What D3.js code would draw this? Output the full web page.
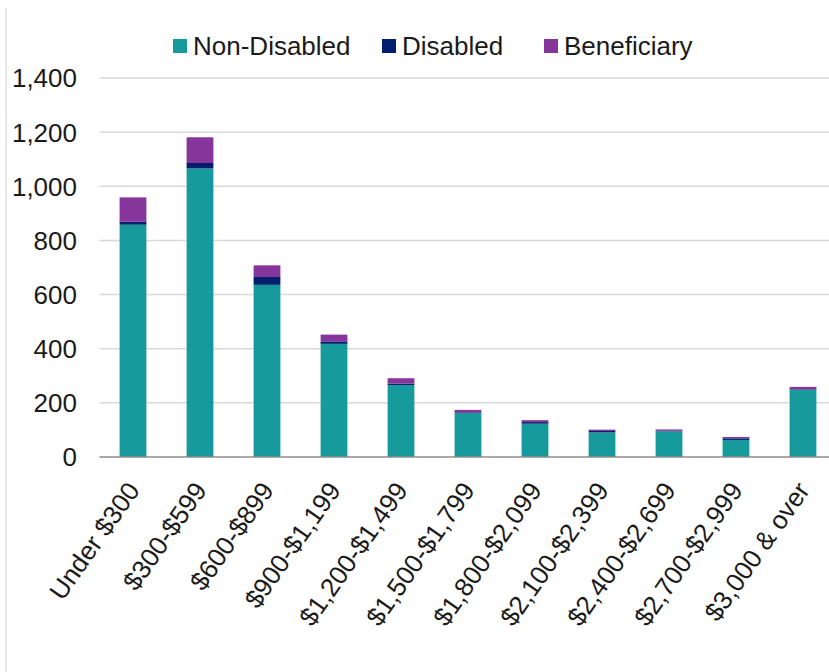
<!DOCTYPE html>
<html>
<head>
<meta charset="utf-8">
<script src="https://cdn.jsdelivr.net/npm/d3@7"></script>
<style>
  html, body { margin: 0; padding: 0; background: #fff; overflow: hidden; }
</style>
</head>
<body>
<div id="chart"></div>
<script>
// categories and series
const categories = ["Under $300", "$300-$599", "$600-$899", "$900-$1,199", "$1,200-$1,499",
    "$1,500-$1,799", "$1,800-$2,099", "$2,100-$2,399", "$2,400-$2,699", "$2,700-$2,999", "$3,000 & over"];
const nonDisabled = [858, 1066, 636, 418, 266, 162, 123, 91, 95, 63, 248];
const disabled    = [11, 20, 29, 9, 5, 3, 6, 5, 2, 6, 2];
const beneficiary = [90, 95, 43, 25, 20, 9, 7, 5, 5, 5, 9];
const seriesNames = ["Non-Disabled", "Disabled", "Beneficiary"];
const yTicks = [0, 200, 400, 600, 800, 1000, 1200, 1400];

const seriesColors = ["#179A9C", "#021F6E", "#86359A"];
const font = "'Liberation Sans', Arial, sans-serif";

const width = 829, height = 672;
const plot = { left: 99.5, right: 836.5, top: 78, bottom: 457 };

const svg = d3.select("#chart").append("svg")
    .attr("width", width)
    .attr("height", height)
    .attr("viewBox", `0 0 ${width} ${height}`);

// chart area left border
svg.append("line")
    .attr("x1", 6).attr("x2", 6)
    .attr("y1", 8).attr("y2", height)
    .attr("stroke", "#d0d0d0").attr("stroke-width", 1);

const rows = categories.map((c, i) => ({
    cat: c,
    "Non-Disabled": nonDisabled[i],
    "Disabled": disabled[i],
    "Beneficiary": beneficiary[i]
}));
const stacked = d3.stack().keys(seriesNames)(rows);

const x = d3.scaleBand()
    .domain(categories)
    .range([plot.left, plot.right])
    .paddingInner(0.6)
    .paddingOuter(0.3);

const y = d3.scaleLinear()
    .domain([0, 1400])
    .range([plot.bottom, plot.top]);

// gridlines
svg.append("g")
    .selectAll("line")
    .data(yTicks.filter(t => t > 0))
    .enter().append("line")
    .attr("x1", plot.left).attr("x2", plot.right)
    .attr("y1", d => y(d)).attr("y2", d => y(d))
    .attr("stroke", "#d9d9d9").attr("stroke-width", 1.5);

// y tick labels
svg.append("g")
    .selectAll("text")
    .data(yTicks)
    .enter().append("text")
    .attr("x", 77)
    .attr("y", d => y(d))
    .attr("dy", "0.36em")
    .attr("text-anchor", "end")
    .style("font-family", font)
    .style("font-size", "26px")
    .style("fill", "#1a1a1a")
    .text(d => d3.format(",")(d));

// stacked bars
svg.append("g")
    .selectAll("g")
    .data(stacked)
    .enter().append("g")
    .attr("fill", (d, i) => seriesColors[i])
    .selectAll("rect")
    .data(d => d)
    .enter().append("rect")
    .attr("x", d => x(d.data.cat))
    .attr("y", d => y(d[1]))
    .attr("width", x.bandwidth())
    .attr("height", d => y(d[0]) - y(d[1]));

// baseline
svg.append("line")
    .attr("x1", plot.left).attr("x2", plot.right)
    .attr("y1", plot.bottom).attr("y2", plot.bottom)
    .attr("stroke", "#8c8c8c").attr("stroke-width", 1.5);

// x labels, rotated
svg.append("g")
    .selectAll("text")
    .data(categories)
    .enter().append("text")
    .attr("transform", d => `translate(${x(d) + x.bandwidth() / 2}, ${plot.bottom + 28}) rotate(-55)`)
    .attr("text-anchor", "end")
    .attr("dy", "0.36em")
    .style("font-family", font)
    .style("font-size", "26px")
    .style("fill", "#1a1a1a")
    .text(d => d);

// legend
const legendX = [173, 382, 544];
const legend = svg.append("g")
    .selectAll("g")
    .data(seriesNames)
    .enter().append("g")
    .attr("transform", (d, i) => `translate(${legendX[i]}, 46)`);

legend.append("rect")
    .attr("x", 0).attr("y", -7)
    .attr("width", 14).attr("height", 14)
    .attr("fill", (d, i) => seriesColors[i]);

legend.append("text")
    .attr("x", 20)
    .attr("dy", "0.36em")
    .style("font-family", font)
    .style("font-size", "26px")
    .style("fill", "#1a1a1a")
    .text(d => d);
</script>
</body>
</html>
